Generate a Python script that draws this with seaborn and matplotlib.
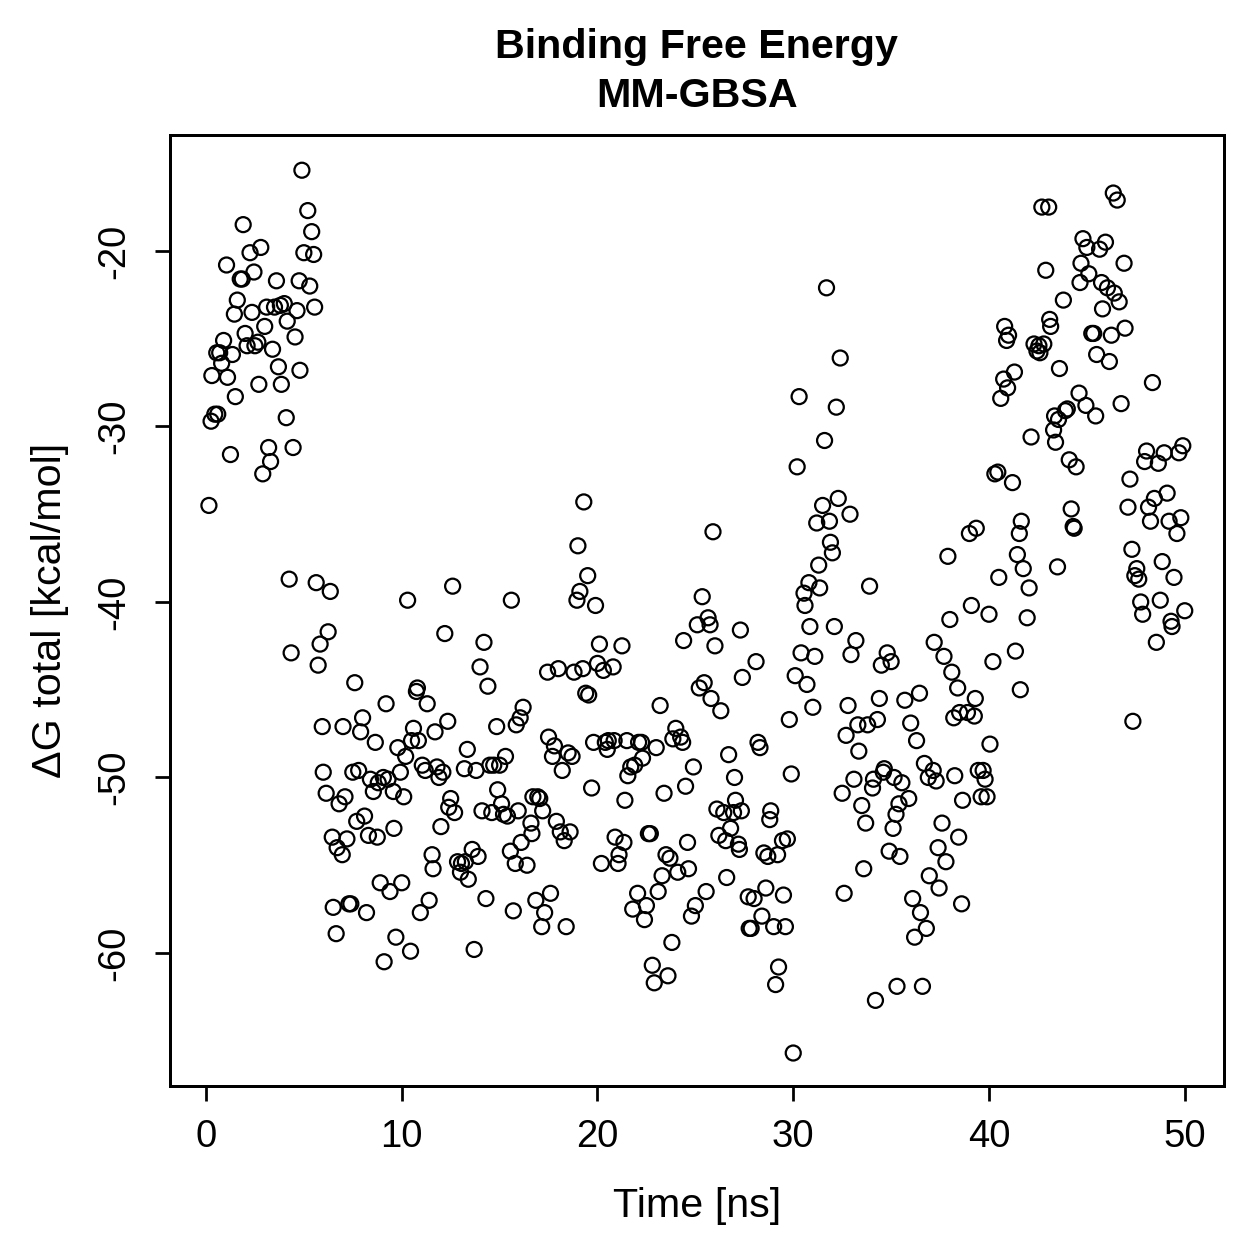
import numpy as np
import pandas as pd
import matplotlib
matplotlib.use("Agg")
import matplotlib.pyplot as plt
import seaborn as sns

# -----------------------------
# Data (time in ns, dG in kcal/mol)
# -----------------------------
time_a = [0.15, 0.26, 0.3, 0.45, 0.6, 0.55, 0.7, 0.8, 0.9, 1.05, 1.1, 1.25, 1.35, 1.45, 1.5, 1.6, 1.75,
          1.85, 1.9, 2.0, 2.1, 2.25, 2.35, 2.45, 2.5, 2.65, 2.7, 2.8, 2.9, 3.0, 3.1, 3.2, 3.3, 3.4, 3.5,
          3.6, 3.7, 3.8, 3.85, 4.0, 4.1, 4.15, 4.25, 4.35, 4.45, 4.55, 4.65, 4.76, 4.8, 4.9, 5.0, 5.2,
          5.3, 5.4, 5.5, 5.55]
dg_a = [-34.5, -29.7, -27.1, -29.3, -29.3, -25.8, -25.8, -26.4, -25.1, -20.8, -27.2, -31.6, -25.9, -23.6,
        -28.3, -22.8, -21.6, -21.6, -18.5, -24.7, -25.4, -20.1, -23.5, -21.2, -25.4, -25.2, -27.6, -19.8,
        -32.7, -24.3, -23.2, -31.2, -32.0, -25.6, -23.2, -21.7, -26.6, -23.1, -27.6, -23.0, -29.5, -24.0,
        -38.7, -42.9, -31.2, -24.9, -23.4, -21.7, -26.8, -15.4, -20.1, -17.7, -22.0, -18.9, -20.2, -23.2]

time_b = [5.63, 5.73, 5.83, 5.94, 5.99, 6.14, 6.24, 6.35, 6.45, 6.5, 6.65, 6.7, 6.8, 6.96, 7.0, 7.1, 7.2,
          7.3, 7.4, 7.5, 7.6, 7.7, 7.8, 7.9, 8.0, 8.1, 8.2, 8.3, 8.4, 8.55, 8.65, 8.75, 8.8, 8.9, 9.06,
          9.1, 9.2, 9.3, 9.4, 9.57, 9.6, 9.7, 9.8, 9.93, 10.0, 10.1, 10.2, 10.3, 10.45, 10.5, 10.6,
          10.75, 10.8, 10.85, 10.95, 11.05]
dg_b = [-38.9, -43.6, -42.4, -47.1, -49.7, -50.9, -41.7, -39.4, -53.4, -57.4, -58.9, -54.0, -51.5, -54.4,
        -47.1, -51.1, -53.5, -57.2, -57.2, -49.7, -44.6, -52.5, -49.6, -47.4, -46.6, -52.2, -57.7, -53.3,
        -50.1, -50.8, -48.0, -53.4, -50.3, -56.0, -50.0, -60.5, -45.8, -50.1, -56.5, -50.8, -52.9, -59.1,
        -48.3, -49.7, -56.0, -51.1, -48.8, -39.9, -59.9, -47.9, -47.2, -45.1, -44.9, -47.9, -57.7, -49.3]

time_c = [11.2, 11.3, 11.4, 11.55, 11.6, 11.7, 11.8, 11.9, 12.0, 12.1, 12.2, 12.35, 12.4, 12.5, 12.6,
          12.7, 12.85, 13.0, 13.05, 13.2, 13.25, 13.35, 13.4, 13.6, 13.7, 13.8, 13.9, 14.0, 14.1, 14.2,
          14.3, 14.4, 14.5, 14.6, 14.7, 14.85, 14.9, 15.0, 15.1, 15.2, 15.3, 15.4, 15.55, 15.6, 15.7,
          15.8, 15.85, 15.95, 16.05, 16.1, 16.2]
dg_c = [-49.6, -45.8, -57.0, -54.4, -55.2, -47.4, -49.4, -50.0, -52.8, -49.7, -41.8, -46.8, -51.7, -51.2,
        -39.1, -52.0, -54.8, -55.4, -54.9, -49.5, -54.8, -48.4, -55.8, -54.1, -59.8, -49.6, -54.5, -43.7,
        -51.9, -42.3, -56.9, -44.8, -49.3, -52.0, -49.3, -47.1, -50.7, -49.3, -51.5, -52.1, -48.8, -52.2,
        -54.2, -39.9, -57.6, -54.9, -47.0, -51.9, -46.6, -53.7, -46.0]

time_d = [16.4, 16.6, 16.65, 16.7, 16.85, 16.95, 17.05, 17.15, 17.2, 17.3, 17.45, 17.5, 17.6, 17.7, 17.8,
          17.9, 18.0, 18.1, 18.2, 18.3, 18.4, 18.5, 18.6, 18.7, 18.8, 18.95, 19.0, 19.1, 19.25, 19.3,
          19.4, 19.5, 19.55, 19.7, 19.8, 19.9, 20.0, 20.1, 20.2, 20.3, 20.4, 20.5, 20.55, 20.8, 20.85,
          20.9, 21.05, 21.1, 21.25, 21.35, 21.4, 21.5, 21.55, 21.7]
dg_d = [-55.0, -52.6, -53.2, -51.1, -57.0, -51.1, -51.2, -58.5, -51.9, -57.7, -44.0, -47.7, -56.6, -48.8,
        -48.2, -52.5, -43.8, -53.1, -49.6, -53.6, -58.5, -48.6, -53.1, -48.8, -44.0, -39.9, -36.8, -39.4,
        -43.8, -34.3, -45.2, -38.5, -45.3, -50.6, -48.0, -40.2, -43.5, -42.4, -54.9, -43.9, -48.0, -48.4,
        -47.9, -43.7, -47.9, -53.4, -54.9, -54.4, -42.5, -53.7, -51.3, -47.9, -49.9, -49.4]

time_e = [21.8, 21.9, 22.05, 22.1, 22.25, 22.3, 22.4, 22.5, 22.6, 22.7, 22.8, 22.9, 23.0, 23.1, 23.2,
          23.3, 23.4, 23.5, 23.6, 23.7, 23.8, 23.85, 24.0, 24.1, 24.25, 24.35, 24.4, 24.5, 24.6, 24.65,
          24.8, 24.9, 25.0, 25.1, 25.2, 25.35, 25.45, 25.55, 25.65, 25.75, 25.8, 25.9, 26.0, 26.1, 26.2,
          26.3, 26.45, 26.55, 26.6, 26.7, 26.8, 26.95, 27.0, 27.05, 27.2, 27.25, 27.3, 27.35, 27.4]
dg_e = [-57.5, -49.3, -56.6, -48.0, -48.0, -48.9, -58.1, -57.3, -53.2, -53.2, -60.7, -61.7, -48.3, -56.5,
        -45.9, -55.6, -50.9, -54.4, -61.3, -54.6, -59.4, -47.8, -47.2, -55.4, -47.7, -48.0, -42.2, -50.5,
        -53.7, -55.2, -57.9, -49.4, -57.3, -41.3, -44.9, -39.7, -44.6, -56.5, -40.9, -41.3, -45.5, -36.0,
        -42.5, -51.8, -53.3, -46.2, -52.0, -53.6, -55.7, -48.7, -52.9, -52.0, -50.0, -51.3, -53.8, -54.1,
        -41.6, -51.9, -44.3]

time_f = [27.7, 27.75, 27.85, 28.0, 28.1, 28.2, 28.3, 28.4, 28.5, 28.6, 28.7, 28.8, 28.85, 29.0, 29.1,
          29.2, 29.25, 29.45, 29.5, 29.6, 29.7, 29.8, 29.9, 30.0, 30.1, 30.2, 30.3, 30.4, 30.55, 30.6,
          30.7, 30.8, 30.85, 31.0, 31.1, 31.2, 31.3, 31.35, 31.5, 31.6, 31.7, 31.85, 31.9, 32.0, 32.1,
          32.2, 32.3, 32.4, 32.5, 32.6, 32.7, 32.8, 32.9, 32.95, 33.1, 33.2, 33.3, 33.35, 33.5, 33.6,
          33.7, 33.8, 33.9, 34.05, 34.1, 34.2, 34.3, 34.4, 34.5, 34.6, 34.65, 34.8, 34.9, 35.0, 35.1,
          35.15, 35.25, 35.3, 35.4, 35.45, 35.55, 35.7]
dg_f = [-56.8, -58.6, -58.6, -56.9, -43.4, -48.0, -48.3, -57.9, -54.3, -56.3, -54.5, -52.4, -51.9, -58.5,
        -61.8, -54.4, -60.8, -53.6, -56.7, -58.5, -53.5, -46.7, -49.8, -65.7, -44.2, -32.3, -28.3, -42.9,
        -39.5, -40.2, -44.7, -38.9, -41.4, -46.0, -43.1, -35.5, -37.9, -39.2, -34.5, -30.8, -22.1, -35.4,
        -36.6, -37.2, -41.4, -28.9, -34.1, -26.1, -50.9, -56.6, -47.6, -45.9, -35.0, -43.0, -50.1, -42.2,
        -47.0, -48.5, -51.6, -55.2, -52.6, -47.0, -39.1, -50.6, -50.1, -62.7, -46.7, -45.5, -43.6, -49.7,
        -49.5, -42.9, -54.2, -43.4, -52.9, -50.0, -52.1, -61.9, -51.5, -54.5, -50.3, -45.6]

time_g = [35.9, 36.0, 36.1, 36.2, 36.3, 36.45, 36.5, 36.6, 36.7, 36.8, 36.9, 36.95, 37.15, 37.2, 37.3,
          37.4, 37.45, 37.6, 37.7, 37.8, 37.9, 38.0, 38.1, 38.2, 38.25, 38.4, 38.45, 38.5, 38.6, 38.65,
          38.9, 39.0, 39.1, 39.25, 39.3, 39.35, 39.45, 39.6, 39.7, 39.8, 39.9, 40.0, 40.05, 40.2]
dg_g = [-51.2, -46.9, -56.9, -59.1, -47.9, -45.2, -57.7, -61.9, -49.2, -58.6, -50.0, -55.6, -49.6, -42.3,
        -50.2, -54.0, -56.3, -52.6, -43.1, -54.8, -37.4, -41.0, -44.0, -46.6, -49.9, -44.9, -53.4, -46.3,
        -57.2, -51.3, -46.3, -36.1, -40.2, -46.5, -45.5, -35.8, -49.6, -51.1, -49.6, -50.1, -51.1, -40.7,
        -48.1, -43.4]

time_h = [40.3, 40.45, 40.5, 40.6, 40.75, 40.8, 40.9, 40.95, 41.0, 41.2, 41.3, 41.35, 41.45, 41.55, 41.6,
          41.65, 41.75, 41.95, 42.05, 42.15, 42.3, 42.45, 42.55, 42.6, 42.7, 42.8, 42.9, 43.05, 43.1,
          43.15, 43.3, 43.35, 43.4, 43.5, 43.55, 43.6, 43.8]
dg_h = [-32.7, -32.6, -38.6, -28.4, -27.3, -24.3, -25.1, -27.8, -24.8, -33.2, -26.9, -42.8, -37.3, -36.1,
        -45.0, -35.4, -38.1, -40.9, -39.2, -30.6, -25.3, -25.7, -25.4, -25.8, -17.5, -25.3, -21.1, -17.5,
        -23.9, -24.3, -30.2, -29.4, -30.9, -38.0, -29.6, -26.7, -22.8]

time_i = [43.9, 44.0, 44.1, 44.2, 44.3, 44.35, 44.45, 44.6, 44.65, 44.7, 44.8, 44.95, 45.0, 45.1, 45.25,
          45.35, 45.45, 45.5, 45.65, 45.75, 45.8, 45.95, 46.05, 46.15, 46.25, 46.35, 46.4, 46.55, 46.65,
          46.75, 46.9, 46.95, 47.1, 47.2, 47.3, 47.35, 47.45, 47.55, 47.65, 47.75, 47.85, 47.95, 48.05,
          48.15, 48.25, 48.35, 48.45, 48.55, 48.65, 48.75, 48.85, 48.95, 49.1, 49.2, 49.3, 49.35, 49.45,
          49.6, 49.7, 49.8, 49.9, 50.0]
dg_i = [-29.1, -29.0, -31.9, -34.7, -35.7, -35.8, -32.3, -28.1, -21.8, -20.7, -19.3, -28.8, -19.8, -21.3,
        -24.7, -24.7, -29.4, -25.9, -19.9, -21.8, -23.3, -19.5, -22.1, -26.3, -24.8, -16.7, -22.4, -17.1,
        -22.9, -28.7, -20.7, -24.4, -34.6, -33.0, -37.0, -46.8, -38.5, -38.1, -38.7, -40.0, -40.7, -32.0,
        -31.4, -34.6, -35.4, -27.5, -34.1, -42.3, -32.1, -39.9, -37.7, -31.5, -33.8, -35.4, -41.1, -41.4,
        -38.6, -36.1, -31.5, -35.2, -31.1, -40.5]

x_ticks = [0, 10, 20, 30, 40, 50]
y_ticks = [-20, -30, -40, -50, -60]

df = pd.DataFrame({
    "time": time_a + time_b + time_c + time_d + time_e + time_f + time_g + time_h + time_i,
    "dg": dg_a + dg_b + dg_c + dg_d + dg_e + dg_f + dg_g + dg_h + dg_i,
})

# -----------------------------
# Plot, base-R look
# -----------------------------
sns.set_style("ticks")
plt.rcParams["font.family"] = ["Liberation Sans", "DejaVu Sans"]
plt.rcParams["text.color"] = "black"
plt.rcParams["axes.labelcolor"] = "black"

fig = plt.figure(figsize=(7, 7), dpi=179.86)
ax = fig.add_axes([0.135, 0.1374, 0.8371, 0.7554])

sns.scatterplot(data=df, x="time", y="dg", ax=ax, marker="o", s=36,
                facecolors="none", edgecolor="black", linewidth=0.9)

ax.set_xlim(-1.84, 52.0)
ax.set_ylim(-67.58, -13.39)
ax.set_xticks(x_ticks)
ax.set_yticks(y_ticks)
ax.set_yticklabels([str(v) for v in y_ticks], rotation=90, va="center")
ax.tick_params(axis="both", direction="out", length=6, width=1.1, labelsize=15.3,
               color="black", labelcolor="black")
ax.tick_params(axis="x", pad=7)
ax.tick_params(axis="y", pad=9)
for sp in ax.spines.values():
    sp.set_visible(True)
    sp.set_linewidth(1.2)
    sp.set_color("black")

ax.set_xlabel("Time [ns]", fontsize=16.5, labelpad=13)
ax.set_ylabel("\u0394G total [kcal/mol]", fontsize=16.5, labelpad=11)
ax.set_title("Binding Free Energy\nMM-GBSA", fontsize=16.5, fontweight="bold",
             linespacing=1.38, pad=11, color="black")

fig.savefig("out.png", dpi=179.86)
